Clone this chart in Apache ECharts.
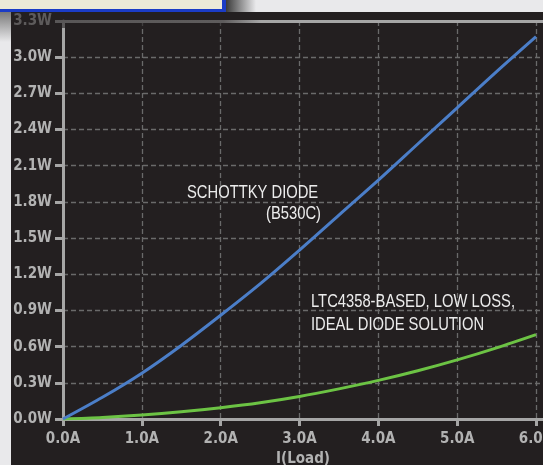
<!DOCTYPE html>
<html><head><meta charset="utf-8">
<script src="https://cdn.jsdelivr.net/npm/echarts@6/dist/echarts.min.js"></script>
<style>html,body{margin:0;padding:0;background:#231f20;overflow:hidden}#c{width:543px;height:465px}</style>
</head><body><div id="c"></div>
<script>
// Data
const loadCurrent   = [0, 0.5, 1, 1.5, 2, 2.5, 3, 3.5, 4, 4.5, 5, 5.5, 6];
const schottkyLoss  = [0, 0.18, 0.38, 0.61, 0.86, 1.12, 1.40, 1.69, 1.98, 2.28, 2.58, 2.88, 3.17];
const idealDiodeLoss = [0, 0.013, 0.033, 0.06, 0.094, 0.135, 0.187, 0.25, 0.32, 0.40, 0.49, 0.59, 0.70];
const xTickValues = [0, 1, 2, 3, 4, 5, 6];
const xTickLabels = ['0.0A', '1.0A', '2.0A', '3.0A', '4.0A', '5.0A', '6.0A'];
const yTickLabels = ['0.0W', '0.3W', '0.6W', '0.9W', '1.2W', '1.5W', '1.8W', '2.1W', '2.4W', '2.7W', '3.0W', '3.3W'];
const xAxisName = 'I(Load)';
const annotations = [
  { text: 'SCHOTTKY DIODE', x: 187, y: 193, align: 'left' },
  { text: '(B530C)', x: 321, y: 214, align: 'right' },
  { text: 'LTC4358-BASED, LOW LOSS,', x: 311, y: 302, align: 'left' },
  { text: 'IDEAL DIODE SOLUTION', x: 311, y: 325, align: 'left' }
];

const tickFont = { fontFamily: 'DejaVu Sans Condensed', fontWeight: 'bold', fontSize: 15, color: '#b2b2b2' };
const axisGray = '#a6a6a6';
const gridGray = '#6a6a6a';

const chart = echarts.init(document.getElementById('c'), null, { renderer: 'canvas' });
const toPairs = (xs, ys) => xs.map((x, i) => [x, ys[i]]);

chart.setOption({
  backgroundColor: '#231f20',
  animation: false,
  grid: { left: 63, right: 0, top: 21, bottom: 46, containLabel: false, outerBoundsMode: 'none' },
  xAxis: [{
    type: 'value', min: 0, max: 6 * 480 / 473,
    name: xAxisName, nameLocation: 'middle', nameGap: 33,
    nameTextStyle: Object.assign({}, tickFont),
    axisLine: { show: true, lineStyle: { color: axisGray, width: 3 } },
    axisTick: { show: true, length: 7, lineStyle: { color: axisGray, width: 3 }, customValues: xTickValues },
    axisLabel: Object.assign({ margin: 13, customValues: xTickValues,
      formatter: v => { const i = xTickValues.indexOf(Math.round(v)); return Math.abs(v - Math.round(v)) < 1e-6 && i >= 0 ? xTickLabels[i] : ''; } }, tickFont),
    splitLine: { show: true, lineStyle: { color: gridGray, width: 1.3, type: [5, 3] } }
  }, {
    type: 'value', position: 'top', min: 0, max: 1,
    axisLine: { show: true, onZero: false, lineStyle: { color: axisGray, width: 3 } },
    axisTick: { show: false }, axisLabel: { show: false }, splitLine: { show: false }
  }],
  yAxis: {
    type: 'value', min: 0, max: 3.3, interval: 0.3,
    axisLine: { show: true, lineStyle: { color: axisGray, width: 3 } },
    axisTick: { show: true, length: 8, lineStyle: { color: axisGray, width: 3 } },
    axisLabel: Object.assign({ margin: 11, showMaxLabel: true,
      formatter: v => yTickLabels[Math.round(v / 0.3)] }, tickFont),
    splitLine: { show: true, lineStyle: { color: gridGray, width: 1.3, type: [5, 3] } }
  },
  series: [{
    name: 'SCHOTTKY DIODE (B530C)', type: 'line', xAxisIndex: 0,
    data: toPairs(loadCurrent, schottkyLoss), showSymbol: false, smooth: 0.3,
    lineStyle: { color: '#4b7ec8', width: 3 }, z: 5
  }, {
    name: 'LTC4358-BASED, LOW LOSS, IDEAL DIODE SOLUTION', type: 'line', xAxisIndex: 0,
    data: toPairs(loadCurrent, idealDiodeLoss), showSymbol: false, smooth: 0.3,
    lineStyle: { color: '#6cc344', width: 3 }, z: 4
  }],
  graphic: [
    // light window chrome around the chart
    { type: 'rect', z: 100, shape: { x: 0, y: 0, width: 543, height: 12 }, style: { fill: '#e9e9eb' } },
    { type: 'rect', z: 100, shape: { x: 0, y: 0, width: 11, height: 465 }, style: { fill: '#e9e9eb' } },
    { type: 'rect', z: 101, shape: { x: 0, y: 12, width: 11, height: 30 },
      style: { fill: new echarts.graphic.LinearGradient(0, 0, 0, 1, [{ offset: 0, color: '#7a7a7a' }, { offset: 1, color: '#e9e9eb' }]) } },
    { type: 'rect', z: 101, shape: { x: 226, y: 0, width: 30, height: 12 },
      style: { fill: new echarts.graphic.LinearGradient(0, 0, 1, 0, [{ offset: 0, color: '#3a3a3a' }, { offset: 1, color: '#e9e9eb' }]) } },
    { type: 'rect', z: 102, shape: { x: 0, y: 0, width: 226, height: 12 }, style: { fill: '#1b3cc6' } },
    { type: 'rect', z: 103, shape: { x: 0, y: 0, width: 222, height: 9 }, style: { fill: '#ece9d8' } },
    // shadow cast by the box onto the plot top
    { type: 'rect', z: 99, shape: { x: 11, y: 12, width: 250, height: 16 },
      style: { fill: new echarts.graphic.LinearGradient(0, 0, 1, 0, [
        { offset: 0, color: 'rgba(35,31,32,0.6)' }, { offset: 0.85, color: 'rgba(35,31,32,0.55)' }, { offset: 1, color: 'rgba(35,31,32,0)' }]) } }
  ].concat(annotations.map(a => ({
    type: 'text', z: 50, x: a.x, y: a.y, scaleX: 0.82,
    style: { text: a.text, fill: '#ececec', font: '18px "Liberation Sans", Arial, sans-serif', textAlign: a.align, textVerticalAlign: 'middle' }
  })))
});
</script>
</body></html>
